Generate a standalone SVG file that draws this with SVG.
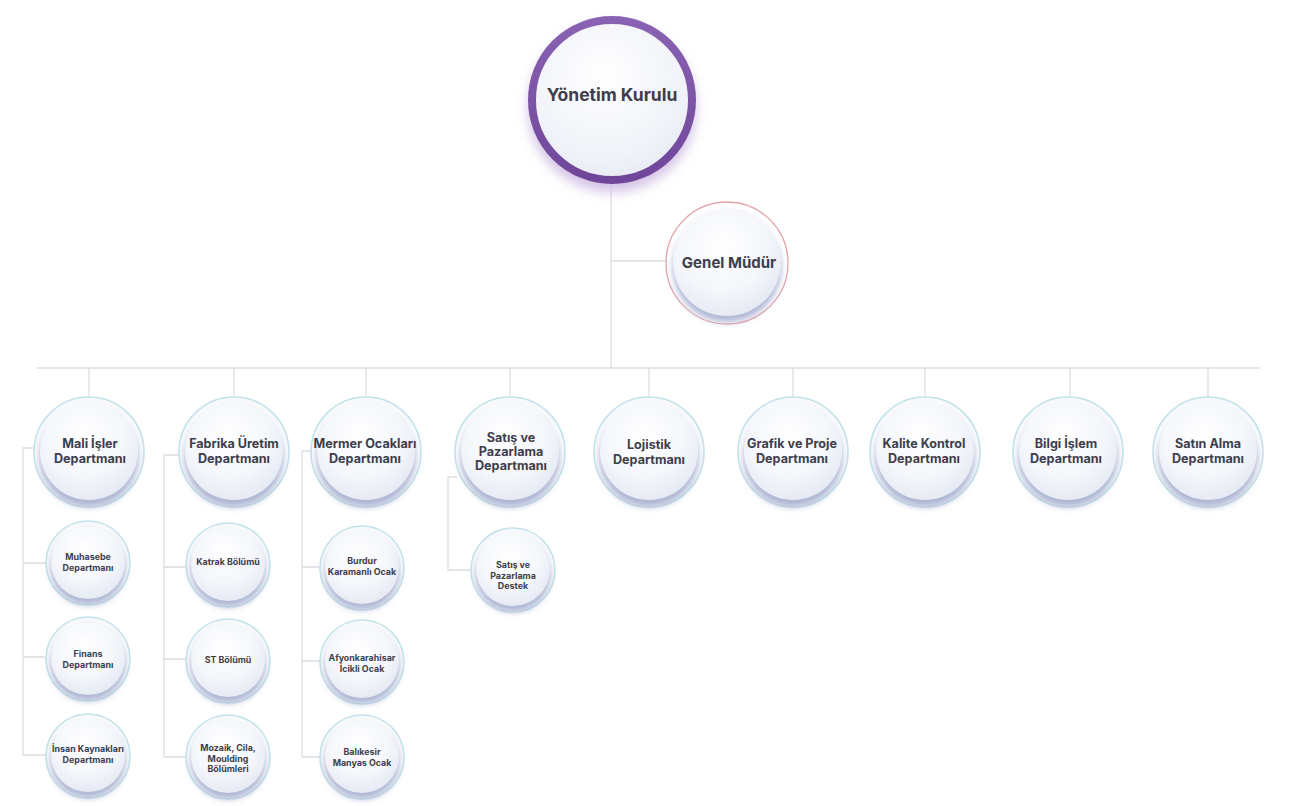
<svg xmlns="http://www.w3.org/2000/svg" width="1297" height="806" viewBox="0 0 1297 806">
  <defs>
    <radialGradient id="bodyGrad" cx="45%" cy="35%" r="70%">
      <stop offset="0%" stop-color="#ffffff"/>
      <stop offset="60%" stop-color="#f4f6fb"/>
      <stop offset="100%" stop-color="#e3e7f1"/>
    </radialGradient>
    <radialGradient id="topGrad" cx="45%" cy="35%" r="70%">
      <stop offset="0%" stop-color="#ffffff"/>
      <stop offset="70%" stop-color="#f1f3f9"/>
      <stop offset="100%" stop-color="#e6e9f3"/>
    </radialGradient>
    <linearGradient id="purpleRing" x1="0" y1="0" x2="0" y2="1">
      <stop offset="0%" stop-color="#8a62b3"/>
      <stop offset="100%" stop-color="#6f4699"/>
    </linearGradient>
    <filter id="blur3" x="-30%" y="-30%" width="160%" height="160%">
      <feGaussianBlur stdDeviation="3"/>
    </filter>
    <filter id="blur6" x="-40%" y="-40%" width="180%" height="180%">
      <feGaussianBlur stdDeviation="6"/>
    </filter>
    <style>
      .line { fill: none; stroke: #dcdce4; stroke-width: 1.3; }
      .ring { fill: #f7f9fc; stroke: #c3e2ea; stroke-width: 1.6; }
      .shade { fill: #aeb6d3; filter: url(#blur3); }
      .body { fill: url(#bodyGrad); }
      text { font-family: "Inter", "Open Sans", "Liberation Sans", sans-serif; font-weight: 700; fill: #3e3e4c; text-anchor: middle; }
      .t-top { font-size: 17.5px; }
      .t-gm { font-size: 15px; }
      .t-dept { font-size: 12.6px; }
      .t-sub { font-size: 8.9px; }
    </style>
  </defs>

  <rect width="1297" height="806" fill="#ffffff"/>

  <g id="connectors">
    <path class="line" d="M611,184 V368"/>
    <path class="line" d="M611,261 H667"/>
    <path class="line" d="M37,368 H1260"/>
    <path class="line" d="M89,368 V397 M234,368 V397 M366,368 V397 M510,368 V397 M649,368 V397 M793,368 V397 M925,368 V397 M1070,368 V397 M1208,368 V397"/>
    <path class="line" d="M34,448 H23 V755 H46 M23,563 H46 M23,657 H46"/>
    <path class="line" d="M179,455 H164 V757 H186 M164,567 H186 M164,659 H186"/>
    <path class="line" d="M311,451 H302 V757 H320 M302,567 H320 M302,661 H320"/>
    <path class="line" d="M457,477 H448 V570 H471"/>
  </g>

  <g id="n-yonetim">
    <circle cx="612" cy="108" r="84" fill="#c9b4e0" filter="url(#blur6)" opacity="0.8"/>
    <circle cx="612" cy="100" r="80" fill="url(#topGrad)" stroke="url(#purpleRing)" stroke-width="8"/>
    <text class="t-top" x="612" y="101">Yönetim Kurulu</text>
  </g>

  <g id="n-genel">
    <circle cx="727" cy="263" r="61" fill="#ffffff" stroke="#e3a3ab" stroke-width="1.3"/>
    <circle cx="727" cy="268" r="54" class="shade"/>
    <circle cx="727" cy="262" r="54" class="body"/>
    <text class="t-gm" x="729" y="268">Genel Müdür</text>
  </g>

  <!-- Departments -->
  <g id="n-mali">
    <circle cx="89" cy="452" r="55" class="ring"/>
    <circle cx="89" cy="458" r="49" class="shade"/>
    <circle cx="89" cy="451" r="49" class="body"/>
    <text class="t-dept" x="90" y="448">Mali İşler<tspan x="90" dy="15">Departmanı</tspan></text>
  </g>
  <g id="n-fabrika">
    <circle cx="234" cy="452" r="55" class="ring"/>
    <circle cx="234" cy="458" r="49" class="shade"/>
    <circle cx="234" cy="451" r="49" class="body"/>
    <text class="t-dept" x="234" y="448">Fabrika Üretim<tspan x="234" dy="15">Departmanı</tspan></text>
  </g>
  <g id="n-mermer">
    <circle cx="366" cy="452" r="55" class="ring"/>
    <circle cx="366" cy="458" r="49" class="shade"/>
    <circle cx="366" cy="451" r="49" class="body"/>
    <text class="t-dept" x="365" y="448">Mermer Ocakları<tspan x="365" dy="15">Departmanı</tspan></text>
  </g>
  <g id="n-satis">
    <circle cx="510" cy="452" r="55" class="ring"/>
    <circle cx="510" cy="458" r="49" class="shade"/>
    <circle cx="510" cy="451" r="49" class="body"/>
    <text class="t-dept" x="511" y="442">Satış ve<tspan x="511" dy="14">Pazarlama</tspan><tspan x="511" dy="14">Departmanı</tspan></text>
  </g>
  <g id="n-lojistik">
    <circle cx="649" cy="452" r="55" class="ring"/>
    <circle cx="649" cy="458" r="49" class="shade"/>
    <circle cx="649" cy="451" r="49" class="body"/>
    <text class="t-dept" x="649" y="449">Lojistik<tspan x="649" dy="15">Departmanı</tspan></text>
  </g>
  <g id="n-grafik">
    <circle cx="793" cy="452" r="55" class="ring"/>
    <circle cx="793" cy="458" r="49" class="shade"/>
    <circle cx="793" cy="451" r="49" class="body"/>
    <text class="t-dept" x="792" y="448">Grafik ve Proje<tspan x="792" dy="15">Departmanı</tspan></text>
  </g>
  <g id="n-kalite">
    <circle cx="925" cy="452" r="55" class="ring"/>
    <circle cx="925" cy="458" r="49" class="shade"/>
    <circle cx="925" cy="451" r="49" class="body"/>
    <text class="t-dept" x="924" y="448">Kalite Kontrol<tspan x="924" dy="15">Departmanı</tspan></text>
  </g>
  <g id="n-bilgi">
    <circle cx="1068" cy="452" r="55" class="ring"/>
    <circle cx="1068" cy="458" r="49" class="shade"/>
    <circle cx="1068" cy="451" r="49" class="body"/>
    <text class="t-dept" x="1066" y="448">Bilgi İşlem<tspan x="1066" dy="15">Departmanı</tspan></text>
  </g>
  <g id="n-satinalma">
    <circle cx="1208" cy="452" r="55" class="ring"/>
    <circle cx="1208" cy="458" r="49" class="shade"/>
    <circle cx="1208" cy="451" r="49" class="body"/>
    <text class="t-dept" x="1208" y="448">Satın Alma<tspan x="1208" dy="15">Departmanı</tspan></text>
  </g>

  <!-- Sub units: Mali İşler -->
  <g id="n-muhasebe">
    <circle cx="88" cy="563" r="42" class="ring"/>
    <circle cx="88" cy="568" r="37" class="shade"/>
    <circle cx="88" cy="562" r="37" class="body"/>
    <text class="t-sub" x="88" y="560">Muhasebe<tspan x="88" dy="11">Departmanı</tspan></text>
  </g>
  <g id="n-finans">
    <circle cx="88" cy="659" r="42" class="ring"/>
    <circle cx="88" cy="664" r="37" class="shade"/>
    <circle cx="88" cy="658" r="37" class="body"/>
    <text class="t-sub" x="88" y="657">Finans<tspan x="88" dy="11">Departmanı</tspan></text>
  </g>
  <g id="n-insan">
    <circle cx="88" cy="756" r="42" class="ring"/>
    <circle cx="88" cy="761" r="37" class="shade"/>
    <circle cx="88" cy="755" r="37" class="body"/>
    <text class="t-sub" x="88" y="752">İnsan Kaynakları<tspan x="88" dy="11">Departmanı</tspan></text>
  </g>

  <!-- Sub units: Fabrika -->
  <g id="n-katrak">
    <circle cx="228" cy="565" r="42" class="ring"/>
    <circle cx="228" cy="570" r="37" class="shade"/>
    <circle cx="228" cy="564" r="37" class="body"/>
    <text class="t-sub" x="228" y="565">Katrak Bölümü</text>
  </g>
  <g id="n-st">
    <circle cx="228" cy="661" r="42" class="ring"/>
    <circle cx="228" cy="666" r="37" class="shade"/>
    <circle cx="228" cy="660" r="37" class="body"/>
    <text class="t-sub" x="228" y="663">ST Bölümü</text>
  </g>
  <g id="n-mozaik">
    <circle cx="228" cy="757" r="42" class="ring"/>
    <circle cx="228" cy="762" r="37" class="shade"/>
    <circle cx="228" cy="756" r="37" class="body"/>
    <text class="t-sub" x="228" y="751">Mozaik, Cila,<tspan x="228" dy="10.5">Moulding</tspan><tspan x="228" dy="10.5">Bölümleri</tspan></text>
  </g>

  <!-- Sub units: Mermer -->
  <g id="n-burdur">
    <circle cx="362" cy="568" r="42" class="ring"/>
    <circle cx="362" cy="573" r="37" class="shade"/>
    <circle cx="362" cy="567" r="37" class="body"/>
    <text class="t-sub" x="362" y="564">Burdur<tspan x="362" dy="11">Karamanlı Ocak</tspan></text>
  </g>
  <g id="n-afyon">
    <circle cx="362" cy="662" r="42" class="ring"/>
    <circle cx="362" cy="667" r="37" class="shade"/>
    <circle cx="362" cy="661" r="37" class="body"/>
    <text class="t-sub" x="362" y="661">Afyonkarahisar<tspan x="362" dy="11">İcikli Ocak</tspan></text>
  </g>
  <g id="n-balikesir">
    <circle cx="362" cy="757" r="42" class="ring"/>
    <circle cx="362" cy="762" r="37" class="shade"/>
    <circle cx="362" cy="756" r="37" class="body"/>
    <text class="t-sub" x="362" y="755">Balıkesir<tspan x="362" dy="11">Manyas Ocak</tspan></text>
  </g>

  <!-- Sub unit: Satış -->
  <g id="n-satisdestek">
    <circle cx="513" cy="570" r="42" class="ring"/>
    <circle cx="513" cy="575" r="37" class="shade"/>
    <circle cx="513" cy="569" r="37" class="body"/>
    <text class="t-sub" x="513" y="568">Satış ve<tspan x="513" dy="10.5">Pazarlama</tspan><tspan x="513" dy="10.5">Destek</tspan></text>
  </g>
</svg>
